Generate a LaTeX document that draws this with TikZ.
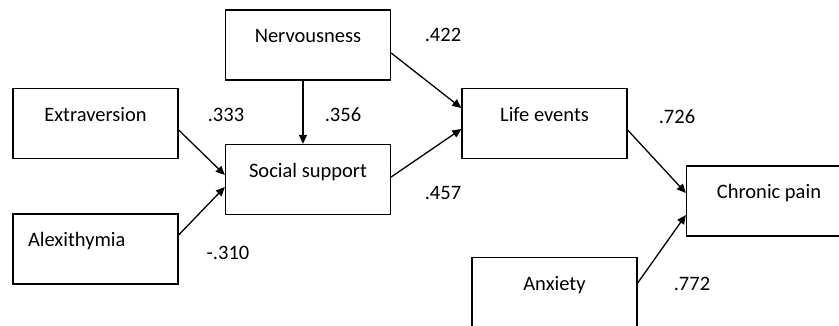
\documentclass[tikz,border=0pt]{standalone}
\usepackage{fontspec}
\setmainfont{Carlito}
\usetikzlibrary{arrows.meta,positioning}

\tikzset{
  var/.style={draw,line width=1.3pt,minimum width=165pt,inner sep=0pt,
    text height=33pt,text depth=37pt,font=\fontsize{20.5}{24}\selectfont},
  coef/.style={inner sep=0pt,font=\fontsize{20.5}{24}\selectfont},
  path/.style={draw,line width=1.3pt,-{Triangle[length=9pt,width=8pt]}}
}

\begin{document}
\begin{tikzpicture}[x=1pt,y=1pt]
\clip (0,0) rectangle (839,326);
\fill[white] (0,0) rectangle (839,326);

\def\vars{nerv/308/281/{Nervousness},extra/95.5/202.5/{Extraversion},soc/308/146.5/{Social support},life/544.5/202.5/{Life events},pain/769/125/{Chronic pain},anx/554.5/33.5/{Anxiety}}
\foreach \n / \x / \y / \t in \vars
  \node [var] (\n) at (\x,\y) {\t};
\node [var,text width=135pt,inner xsep=15pt,align=left] (alex) at (95.5,77) {Alexithymia};

\draw [path] ([xshift=-5pt]nerv.south) -- ([xshift=-5pt]soc.north);
\draw [path] ([yshift=-6.5pt]extra.east) -- ([yshift=4.5pt]soc.west);
\draw [path] ([yshift=14pt]alex.east) -- ([yshift=-7.5pt]soc.west);
\draw [path] ([yshift=-8pt]nerv.east) -- ([yshift=15.5pt]life.west);
\draw [path] ([yshift=2.5pt]soc.east) -- ([yshift=-5.5pt]life.west);
\draw [path] ([yshift=-6.5pt]life.east) -- ([yshift=8pt]pain.west);
\draw [path] ([yshift=9.5pt]anx.east) -- ([yshift=-14pt]pain.west);

\node [coef] (c1) at (226,211) {.333};
\node [coef] (c2) at (343,211) {.356};
\node [coef] (c3) at (228,73) {-.310};
\node [coef] (c4) at (443,291) {.422};
\node [coef] (c5) at (443,133) {.457};
\node [coef] (c6) at (677,209) {.726};
\node [coef] (c7) at (692,42) {.772};

\end{tikzpicture}
\end{document}
